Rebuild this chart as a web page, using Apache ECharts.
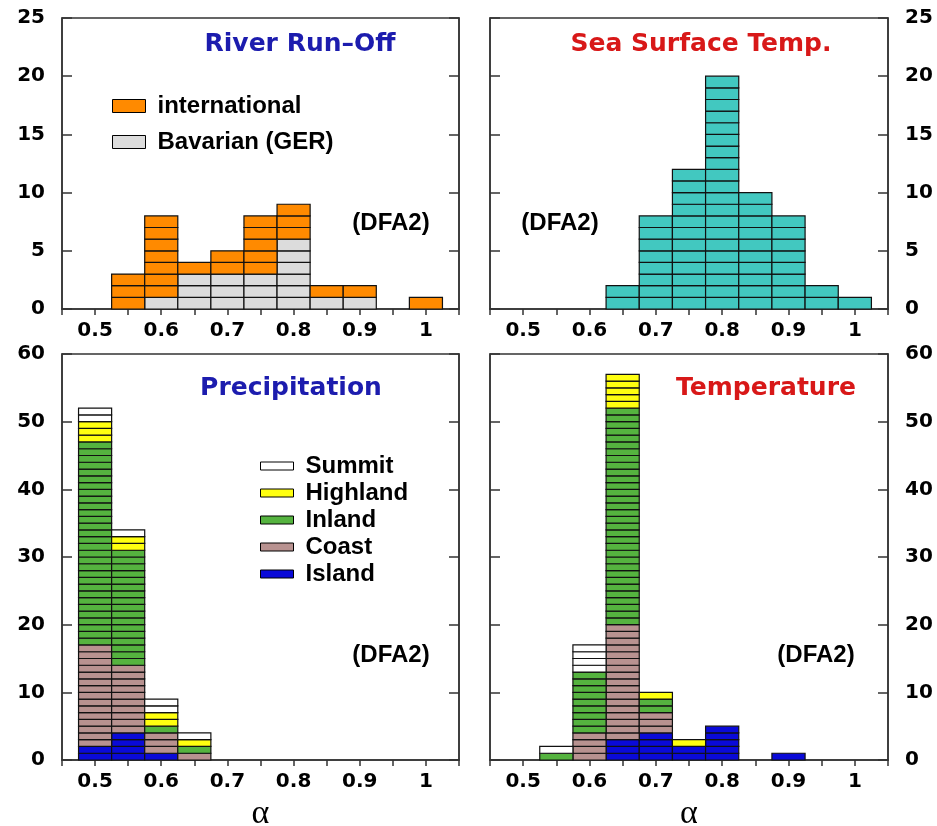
<!DOCTYPE html>
<html>
<head>
<meta charset="utf-8">
<script src="https://cdn.jsdelivr.net/npm/echarts@6/dist/echarts.min.js"></script>
<style>
  html,body{margin:0;padding:0;background:#fff;}
  #chart{width:937px;height:826px;}
</style>
</head>
<body>
<div id="chart"></div>
<script>
// 河流径流 River Run-Off
var riverBins = [0.55, 0.6, 0.65, 0.7, 0.75, 0.8, 0.85, 0.9, 0.95, 1.0];
var riverBavarian = [0, 1, 3, 3, 3, 6, 1, 1, 0, 0];
var riverInternational = [3, 7, 1, 2, 5, 3, 1, 1, 0, 1];
// Sea Surface Temp.
var sstBins = [0.65, 0.7, 0.75, 0.8, 0.85, 0.9, 0.95, 1.0];
var sstCounts = [2, 8, 12, 20, 10, 8, 2, 1];
// Precipitation
var precBins = [0.5, 0.55, 0.6, 0.65];
var precIsland = [2, 4, 1, 0];
var precCoast = [15, 10, 3, 1];
var precInland = [30, 17, 1, 1];
var precHighland = [3, 2, 2, 1];
var precSummit = [2, 1, 2, 1];
// Temperature
var tempBins = [0.55, 0.6, 0.65, 0.7, 0.75, 0.8, 0.85, 0.9];
var tempIsland = [0, 0, 3, 4, 2, 5, 0, 1];
var tempCoast = [0, 4, 17, 3, 0, 0, 0, 0];
var tempInland = [1, 9, 32, 2, 0, 0, 0, 0];
var tempHighland = [0, 0, 5, 1, 1, 0, 0, 0];
var tempSummit = [1, 4, 0, 0, 0, 0, 0, 0];

var xTicks = ['0.5', '0.6', '0.7', '0.8', '0.9', '1'];
var topTicks = [0, 5, 10, 15, 20, 25];
var bottomTicks = [0, 10, 20, 30, 40, 50, 60];

var colors = {
    international: '#ff8a00',
    bavarian: '#dcdcdc',
    sst: '#42c8c0',
    summit: '#ffffff',
    highland: '#ffff10',
    inland: '#55b33f',
    coast: '#b89290',
    island: '#0a0ad8'
};
var halfBin = 0.025;
var labelFont = '"DejaVu Sans"';

//每一格画一个方块
function renderUnits(params, api) {
    var x = api.value(0), base = api.value(1), n = api.value(2);
    var color = api.visual('color');
    var children = [];
    for (var k = 0; k < n; k++) {
        var p0 = api.coord([x - halfBin, base + k + 1]);
        var p1 = api.coord([x + halfBin, base + k]);
        children.push({
            type: 'rect',
            shape: {x: p0[0], y: p0[1], width: p1[0] - p0[0], height: p1[1] - p0[1]},
            style: {fill: color, stroke: '#111', lineWidth: 1.2}
        });
    }
    return {type: 'group', children: children};
}

//堆叠
function stackSeries(bins, layers, axisIdx) {
    var base = bins.map(function () { return 0; });
    var out = [];
    layers.forEach(function (l) {
        var data = bins.map(function (b, i) { return [b, base[i], l.counts[i]]; });
        out.push({
            type: 'custom',
            name: l.name,
            xAxisIndex: axisIdx,
            yAxisIndex: axisIdx * 2,
            itemStyle: {color: l.color, borderColor: '#000', borderWidth: 1},
            renderItem: renderUnits,
            data: data
        });
        bins.forEach(function (b, i) { base[i] += l.counts[i]; });
    });
    return out;
}

var series = [].concat(
    stackSeries(riverBins, [
        {name: 'Bavarian (GER)', color: colors.bavarian, counts: riverBavarian},
        {name: 'international', color: colors.international, counts: riverInternational}
    ], 0),
    stackSeries(sstBins, [
        {name: 'SST', color: colors.sst, counts: sstCounts}
    ], 1),
    stackSeries(precBins, [
        {name: 'Island', color: colors.island, counts: precIsland},
        {name: 'Coast', color: colors.coast, counts: precCoast},
        {name: 'Inland', color: colors.inland, counts: precInland},
        {name: 'Highland', color: colors.highland, counts: precHighland},
        {name: 'Summit', color: colors.summit, counts: precSummit}
    ], 2),
    stackSeries(tempBins, [
        {name: 'Island', color: colors.island, counts: tempIsland},
        {name: 'Coast', color: colors.coast, counts: tempCoast},
        {name: 'Inland', color: colors.inland, counts: tempInland},
        {name: 'Highland', color: colors.highland, counts: tempHighland},
        {name: 'Summit', color: colors.summit, counts: tempSummit}
    ], 3)
);

var grids = [
    {left: 62, top: 18, width: 397, height: 291},
    {left: 490, top: 18, width: 398, height: 291},
    {left: 62, top: 354, width: 397, height: 406},
    {left: 490, top: 354, width: 398, height: 406}
];
grids.forEach(function (g) {
    g.show = true;
    g.borderColor = '#333';
    g.borderWidth = 1.5;
    g.backgroundColor = 'transparent';
    g.containLabel = false;
    g.outerBoundsMode = 'none';
});

var xAxes = grids.map(function (g, i) {
    return {
        type: 'value',
        gridIndex: i,
        min: 0.45,
        max: 1.05,
        interval: 0.05,
        splitLine: {show: false},
        axisLine: {lineStyle: {color: '#333', width: 1.5}},
        axisTick: {inside: false, length: 6, lineStyle: {color: '#333', width: 1.5}},
        axisLabel: {
            margin: 12,
            color: '#000',
            fontFamily: labelFont,
            fontWeight: 'bold',
            fontSize: 20,
            showMinLabel: true,
            showMaxLabel: true,
            formatter: function (v) {
                var s = String(Math.round(v * 100) / 100);
                return xTicks.indexOf(s) >= 0 ? s : '';
            }
        },
        name: i >= 2 ? 'α' : '',
        nameLocation: 'middle',
        nameGap: 37,
        nameTextStyle: {fontFamily: '"Liberation Serif"', fontSize: 34, color: '#000'}
    };
});

var yAxes = [];
grids.forEach(function (g, i) {
    var ticks = i < 2 ? topTicks : bottomTicks;
    ['left', 'right'].forEach(function (pos) {
        var showLbl = (i % 2 === 0) ? pos === 'left' : pos === 'right';
        yAxes.push({
            type: 'value',
            gridIndex: i,
            position: pos,
            min: ticks[0],
            max: ticks[ticks.length - 1],
            interval: ticks[1] - ticks[0],
            splitLine: {show: false},
            axisLine: {show: true, lineStyle: {color: '#333', width: 1.5}},
            axisTick: {inside: true, length: 10, lineStyle: {color: '#333', width: 1.5}},
            axisLabel: {
                show: showLbl,
                margin: 17,
                color: '#000',
                fontFamily: labelFont,
                fontWeight: 'bold',
                fontSize: 20
            }
        });
    });
});

function txt(s, x, y, color, font) {
    return {
        type: 'text',
        x: x,
        y: y,
        style: {text: s, fill: color, font: font, align: 'center', verticalAlign: 'middle'}
    };
}
var titleFont = 'bold 25px "DejaVu Sans"';
var dfaFont = 'bold 24px "Liberation Sans"';

var option = {
    animation: false,
    backgroundColor: '#fff',
    grid: grids,
    xAxis: xAxes,
    yAxis: yAxes,
    legend: [{
        data: ['international', 'Bavarian (GER)'],
        orient: 'vertical',
        left: 112,
        top: 94,
        padding: 0,
        itemGap: 12,
        itemWidth: 33,
        itemHeight: 13,
        icon: 'rect',
        selectedMode: false,
        itemStyle: {borderColor: '#000', borderWidth: 1},
        textStyle: {fontFamily: '"Liberation Sans"', fontWeight: 'bold', fontSize: 24, color: '#000', padding: [0, 0, 0, 7]}
    }, {
        data: ['Summit', 'Highland', 'Inland', 'Coast', 'Island'],
        orient: 'vertical',
        left: 260,
        top: 454,
        padding: 0,
        itemGap: 3,
        itemWidth: 33,
        itemHeight: 8,
        icon: 'rect',
        selectedMode: false,
        itemStyle: {borderColor: '#000', borderWidth: 1},
        textStyle: {fontFamily: '"Liberation Sans"', fontWeight: 'bold', fontSize: 24, color: '#000', padding: [0, 0, 0, 7]}
    }],
    graphic: [
        txt('River Run\u2013Off', 300, 44, '#1c1cae', titleFont),
        txt('Sea Surface Temp.', 701, 44, '#d81818', titleFont),
        txt('Precipitation', 291, 388, '#1c1cae', titleFont),
        txt('Temperature', 766, 388, '#d81818', titleFont),
        txt('(DFA2)', 391, 223, '#000', dfaFont),
        txt('(DFA2)', 560, 223, '#000', dfaFont),
        txt('(DFA2)', 391, 655, '#000', dfaFont),
        txt('(DFA2)', 816, 655, '#000', dfaFont)
    ],
    series: series
};

var chart = echarts.init(document.getElementById('chart'), null, {renderer: 'canvas'});
chart.setOption(option);
</script>
</body>
</html>
